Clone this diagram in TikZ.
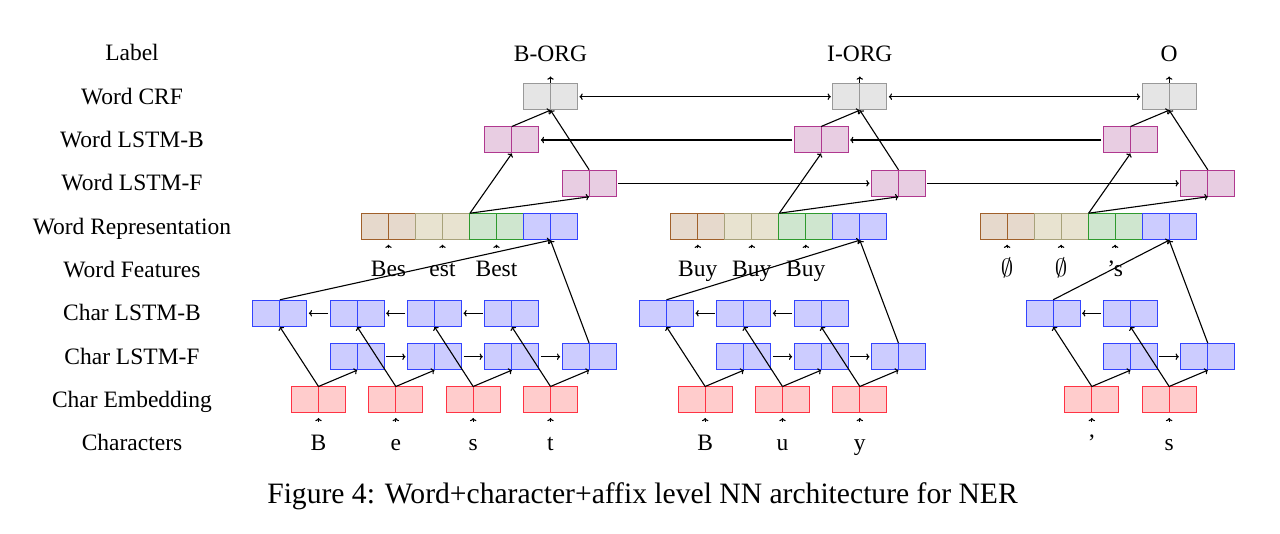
\documentclass[tikz,border=0pt]{standalone}
\usepackage{fontspec}
\setmainfont{Liberation Serif}
\usetikzlibrary{arrows.meta}
\definecolor{grayD}{HTML}{999999}\definecolor{grayL}{HTML}{E5E5E5}
\definecolor{magD}{HTML}{B0388F}\definecolor{magL}{HTML}{E8CDE2}
\definecolor{brownD}{HTML}{A0602A}\definecolor{brownL}{HTML}{E6D9CC}
\definecolor{beigeD}{HTML}{A8A27A}\definecolor{beigeL}{HTML}{E8E3D0}
\definecolor{greenD}{HTML}{2E9A2E}\definecolor{greenL}{HTML}{CFE6CF}
\definecolor{blueD}{HTML}{3344FF}\definecolor{blueL}{HTML}{CCCCFF}
\definecolor{redD}{HTML}{FF3344}\definecolor{redL}{HTML}{FFCCCC}
\tikzset{
  cellbox/.style 2 args={draw=#1, fill=#2, line width=1pt, minimum width=54pt,
    minimum height=26pt, inner sep=0pt,
    path picture={\draw[draw=#1,line width=1pt] (path picture bounding box.north) -- (path picture bounding box.south);}},
  graybox/.style={cellbox={grayD}{grayL}},
  magbox/.style={cellbox={magD}{magL}},
  brownbox/.style={cellbox={brownD}{brownL}},
  beigebox/.style={cellbox={beigeD}{beigeL}},
  greenbox/.style={cellbox={greenD}{greenL}},
  bluebox/.style={cellbox={blueD}{blueL}},
  redbox/.style={cellbox={redD}{redL}},
  lbl/.style={font=\fontsize{23.5}{28}\selectfont, inner sep=0pt, anchor=base},
  arr/.style={-{To[length=3.2pt,width=6.5pt]}, line width=1.1pt},
  harr/.style={arr, shorten >=1.5pt, shorten <=1.5pt},
  darr/.style={{To[length=3.2pt,width=6.5pt]}-{To[length=3.2pt,width=6.5pt]}, line width=1.1pt, shorten >=1.5pt, shorten <=1.5pt},
  tiparr/.style={arr, shorten >=4.5pt},
}
\begin{document}
\begin{tikzpicture}[x=1pt,y=-1pt]
\useasboundingbox (0,0) rectangle (1280,534);
% row labels
\foreach \i/\t in {0/Label,1/Word CRF,2/Word LSTM-B,3/Word LSTM-F,4/Word Representation,5/Word Features,6/Char LSTM-B,7/Char LSTM-F,8/Char Embedding,9/Characters}{
  \node[lbl] (r\i) at (132,{53.3+43.33*\i+7.5}) {\t};
}
% character level
\foreach \k/\ch in {0/B,1/e,2/s,3/t,5/B,6/u,7/y,10/’,11/s}{
  \pgfmathsetmacro\cx{318.5+77.33*\k}
  \node[redbox] (e\k) at (\cx,400) {};
  \node[lbl] (ch\k) at (\cx,450.5) {\ch};
  \node[bluebox] (f\k) at (\cx+38.67,356.7) {};
  \node[bluebox] (b\k) at (\cx-38.67,313.3) {};
  \coordinate (ce\k) at (\cx,421.7);
  \draw[tiparr] (ce\k) -- (e\k.south);
  \draw[arr] (e\k.north) -- (f\k.south);
  \draw[arr] (e\k.north) -- (b\k.south);
}
\foreach \a/\b in {0/1,1/2,2/3,5/6,6/7,10/11}{
  \draw[harr] (f\a.east) -- (f\b.west);
  \draw[harr] (b\b.west) -- (b\a.east);
}
% word level
\foreach \w/\F/\L/\lab/\fa/\fb/\fc in {1/0/3/B-ORG/Bes/est/Best,2/5/7/I-ORG/Buy/Buy/Buy,3/10/11/O/$\emptyset$/$\emptyset$/’s}{
  \pgfmathsetmacro\cx{318.5+77.33*\L}
  \node[brownbox] (wn\w) at (\cx-162,226.7) {};
  \node[beigebox] (we\w) at (\cx-108,226.7) {};
  \node[greenbox] (wg\w) at (\cx-54,226.7) {};
  \node[bluebox] (wb\w) at (\cx,226.7) {};
  \node[lbl] (fa\w) at (\cx-162,276.5) {\fa};
  \node[lbl] (fb\w) at (\cx-108,276.5) {\fb};
  \node[lbl] (fc\w) at (\cx-54,276.5) {\fc};
  \coordinate (cn\w) at (\cx-162,248.5);
  \coordinate (cb\w) at (\cx-108,248.5);
  \coordinate (cg\w) at (\cx-54,248.5);
  \draw[tiparr] (cn\w) -- (wn\w.south);
  \draw[tiparr] (cb\w) -- (we\w.south);
  \draw[tiparr] (cg\w) -- (wg\w.south);
  \node[magbox] (lb\w) at (\cx-38.67,140) {};
  \node[magbox] (lf\w) at (\cx+38.67,183.3) {};
  \node[graybox] (crf\w) at (\cx,96.7) {};
  \node[lbl] (lab\w) at (\cx,61.3) {\lab};
  \coordinate (ct\w) at (\cx,76.5);
  \draw[arr] (crf\w.north) -- (ct\w);
  \draw[arr] (f\L.north) -- (wb\w.south);
  \draw[arr] (b\F.north) -- (wb\w.south);
  \draw[arr] (we\w.north east) -- (lb\w.south);
  \draw[arr] (we\w.north east) -- (lf\w.south);
  \draw[arr] (lb\w.north) -- (crf\w.south);
  \draw[arr] (lf\w.north) -- (crf\w.south);
}
\draw[darr] (crf1.east) -- (crf2.west);
\draw[darr] (crf2.east) -- (crf3.west);
\draw[harr] (lb2.west) -- (lb1.east);
\draw[harr] (lb3.west) -- (lb2.east);
\draw[harr] (lf1.east) -- (lf2.west);
\draw[harr] (lf2.east) -- (lf3.west);
% caption
\node[font=\fontsize{29.6}{35}\selectfont, inner sep=0pt, anchor=base] (cap) at (642.5,503) {Figure 4: Word+character+affix level NN architecture for NER};
\end{tikzpicture}
\end{document}
